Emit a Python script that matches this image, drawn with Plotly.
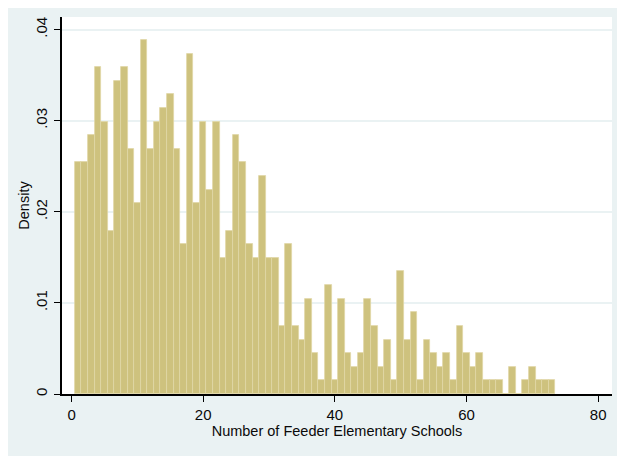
"""Histogram of the number of feeder elementary schools (Stata s2color look)."""
import plotly.graph_objects as go

schools = list(range(1, 74))
counts = [
    17, 17, 19, 24, 20, 12, 23, 24, 18, 14, 26, 18, 20, 21, 22, 18, 11, 25, 14, 20,
    15, 20, 10, 12, 19, 17, 11, 10, 16, 10, 10, 5, 11, 5, 4, 7, 3, 1, 8, 1,
    7, 3, 2, 3, 7, 5, 2, 4, 1, 9, 4, 6, 1, 4, 3, 2, 3, 1, 5, 3,
    2, 3, 1, 1, 1, 0, 2, 0, 1, 2, 1, 1, 1,
]
x_ticks = [0, 20, 40, 60, 80]
y_ticks = [0, 0.01, 0.02, 0.03, 0.04]
y_tick_labels = ["0", ".01", ".02", ".03", ".04"]

total = sum(counts)
density = [c / total for c in counts]

BG = "#EAF2F3"
FONT = "Liberation Sans, Arial, sans-serif"

fig = go.Figure()
fig.add_trace(go.Bar(
    x=schools,
    y=density,
    width=1,
    marker=dict(color="#CEC27E", line=dict(color="#DFD7A6", width=0.8)),
    hovertemplate="%{x}: %{y:.4f}<extra></extra>",
))

# the page body adds an 8px offset, so margins are shifted to compensate
fig.update_layout(
    width=625,
    height=456,
    paper_bgcolor=BG,
    plot_bgcolor="white",
    showlegend=False,
    bargap=0,
    margin=dict(l=54, r=21, t=9, b=70),
    font=dict(family=FONT, size=15, color="#0a0a0a"),
    xaxis=dict(
        range=[-1.45, 82.1],
        tickvals=x_ticks,
        ticks="outside",
        ticklen=6,
        tickwidth=1.3,
        tickcolor="black",
        showgrid=False,
        showline=True,
        linecolor="black",
        linewidth=1.5,
        zeroline=False,
        automargin=False,
        title=dict(text="Number of Feeder Elementary Schools", font=dict(size=14.5), standoff=2),
    ),
    yaxis=dict(
        range=[0, 0.04138],
        tickvals=y_ticks,
        ticktext=y_tick_labels,
        tickangle=-90,
        ticks="outside",
        ticklen=6,
        tickwidth=1.3,
        tickcolor="black",
        ticklabelstandoff=1,
        showgrid=True,
        gridcolor=BG,
        gridwidth=1.5,
        showline=True,
        linecolor="black",
        linewidth=1.5,
        zeroline=False,
        automargin=False,
        title=dict(text="Density", font=dict(size=14.5), standoff=0),
    ),
)

fig.write_html("out.html")
